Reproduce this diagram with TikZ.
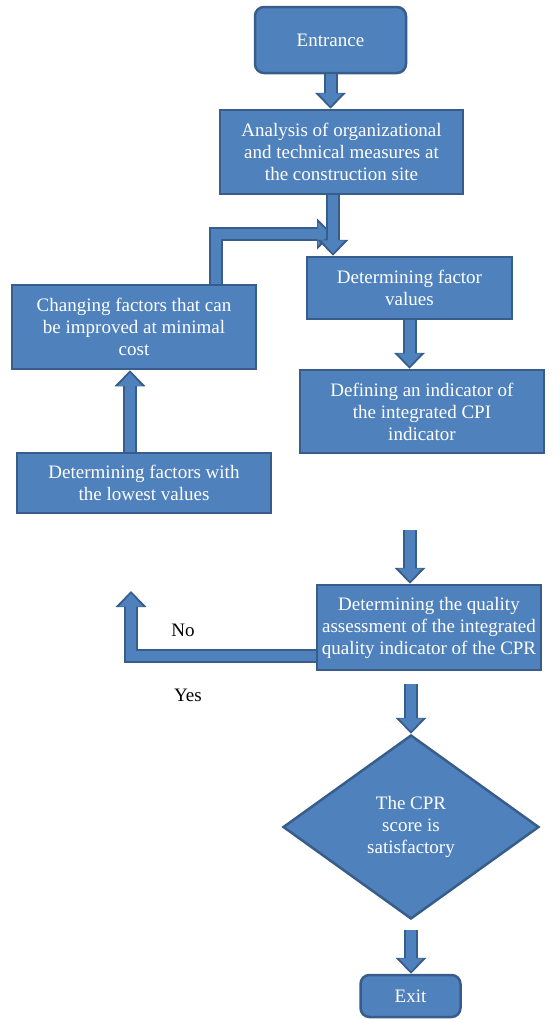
\documentclass[tikz,border=0pt]{standalone}
\usepackage{fontspec}
\setmainfont{Liberation Serif}
\usetikzlibrary{arrows.meta,shapes.geometric}
\definecolor{boxblue}{HTML}{4F81BD}
\definecolor{edgeblue}{HTML}{385D8A}

\begin{document}
\begin{tikzpicture}[x=1bp,y=-1bp,
  box/.style={draw=edgeblue, fill=boxblue, line width=2.5bp, text=white,
    align=center, inner sep=0pt, font=\fontsize{19bp}{22bp}\selectfont},
  term/.style={box, rounded corners=9bp},
  flow/.style={draw=boxblue, line width=10bp,
    -{Triangle[length=13bp,width=23bp]}, shorten >=2.5bp,
    preaction={draw=edgeblue, line width=14bp,
      -{Triangle[length=16bp,width=30bp]}, shorten >=0bp}},
  answer/.style={font=\fontsize{19bp}{22bp}\selectfont}]
  \useasboundingbox (0,0) rectangle (560,1019);

  % Blocks
  \node[term, minimum width=151bp, minimum height=66bp] (entrance) at (330.5,40) {Entrance};
  \node[box, minimum width=243bp, minimum height=84bp] (analysis) at (341.5,152)
    {Analysis of organizational\\and technical measures at\\the construction site};
  \node[box, minimum width=205bp, minimum height=62bp] (factor) at (409.5,288)
    {Determining factor\\values};
  \node[box, minimum width=244bp, minimum height=84bp] (changing) at (134,327)
    {Changing factors that can\\be improved at minimal\\cost};
  \node[box, minimum width=244bp, minimum height=83bp] (defining) at (422,411.5)
    {Defining an indicator of\\the integrated CPI\\indicator};
  \node[box, minimum width=254bp, minimum height=60bp] (lowest) at (144,483)
    {Determining factors with\\the lowest values};
  \node[box, minimum width=224bp, minimum height=85bp] (quality) at (429,627.5)
    {Determining the quality\\assessment of the integrated\\quality indicator of the CPR};
  \node[box, diamond, aspect=1.39, minimum width=256bp, minimum height=184bp] (decision) at (411,827)
    {The CPR\\score is\\satisfactory};
  \node[term, minimum width=100bp, minimum height=42bp] (exit) at (410.5,996) {Exit};

  % Branch labels
  \node[answer] (no) at (183,630) {No};
  \node[answer] (yes) at (188,695) {Yes};

  % Helper points for the arrows
  \coordinate (loopfoot) at (216,285);
  \coordinate (loopend) at (333,234);
  \coordinate (upline) at (130,0);
  \coordinate (gapstart) at (410,530);
  \coordinate (nocorner) at (131,656);
  \coordinate (noend) at (131,591);

  % Arrows
  \draw[flow] (entrance.south) -- (analysis.north -| entrance.south);
  \draw[flow] (changing.north -| loopfoot) |- (loopend);
  \draw[flow] (analysis.south -| loopend) -- (factor.north -| loopend);
  \draw[flow] (factor.south) -- (defining.north -| factor.south);
  \draw[flow] (lowest.north -| upline) -- (changing.south -| upline);
  \draw[flow] (gapstart) -- (gapstart |- quality.north);
  \draw[flow] (quality.west |- nocorner) -| (noend);
  \draw[flow, shorten <=13bp] (quality.south -| decision.north) -- (decision.north);
  \draw[flow, shorten <=10bp] (decision.south) -- (exit.north -| decision.south);
\end{tikzpicture}
\end{document}
